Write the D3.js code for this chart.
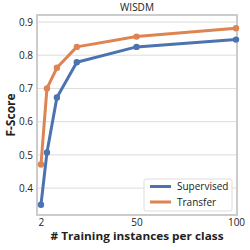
<!DOCTYPE html>
<html>
<head>
<meta charset="utf-8">
<script src="https://cdn.jsdelivr.net/npm/d3@7"></script>
<style>
  body { margin: 0; background: #fff; }
  text { font-family: "Open Sans", "Noto Sans", sans-serif; fill: #222; }
</style>
</head>
<body>
<div id="chart"></div>
<script>
(function(d3) {
  'use strict';

  var instances = [2, 5, 10, 20, 50, 100];
  var supervised = [0.35, 0.507, 0.673, 0.779, 0.825, 0.847];
  var transfer = [0.471, 0.700, 0.762, 0.825, 0.856, 0.881];
  var seriesNames = ['Supervised', 'Transfer'];
  var xTicks = [2, 50, 100];
  var yTicks = [0.4, 0.5, 0.6, 0.7, 0.8, 0.9];

  var width = 250, height = 250;
  var left = 37, right = 237, top = 15, bottom = 215;

  var color = d3.scaleOrdinal(seriesNames, ['#4c72b0', '#dd8452']);

  var x = d3.scaleLinear().domain([0, 100.5]).range([left, right]);
  var y = d3.scaleLinear().domain([0.319, 0.921]).range([bottom, top]);

  var svg = d3.select('#chart').append('svg')
    .attr('width', width)
    .attr('height', height);

  // grid
  svg.append('g')
    .selectAll('line')
    .data(yTicks)
    .enter().append('line')
    .attr('x1', left).attr('x2', right)
    .attr('y1', function(d) { return y(d); })
    .attr('y2', function(d) { return y(d); })
    .attr('stroke', '#dcdcdc')
    .attr('stroke-width', 1);

  // frame
  svg.append('rect')
    .attr('x', left).attr('y', top)
    .attr('width', right - left).attr('height', bottom - top)
    .attr('fill', 'none')
    .attr('stroke', '#cccccc')
    .attr('stroke-width', 2);

  var yAxis = d3.axisLeft(y).tickValues(yTicks).tickSize(0).tickPadding(4)
    .tickFormat(d3.format('.1f'));
  svg.append('g')
    .attr('transform', 'translate(' + left + ',0)')
    .call(yAxis)
    .call(function(g) { g.select('.domain').remove(); })
    .selectAll('text')
    .style('font-size', '10px')
    .attr('fill', '#222');

  var xAxis = d3.axisBottom(x).tickValues(xTicks).tickSize(0).tickPadding(4);
  svg.append('g')
    .attr('transform', 'translate(0,' + bottom + ')')
    .call(xAxis)
    .call(function(g) { g.select('.domain').remove(); })
    .selectAll('text')
    .style('font-size', '10px')
    .attr('fill', '#222');

  var data = [
    { name: 'Supervised', values: supervised },
    { name: 'Transfer', values: transfer }
  ];

  var line = d3.line()
    .x(function(d, i) { return x(instances[i]); })
    .y(function(d) { return y(d); });

  var series = svg.selectAll('.series')
    .data(data)
    .enter().append('g')
    .attr('class', 'series');

  series.append('path')
    .attr('d', function(d) { return line(d.values); })
    .attr('fill', 'none')
    .attr('stroke', function(d) { return color(d.name); })
    .attr('stroke-width', 3)
    .attr('stroke-linejoin', 'round');

  series.selectAll('circle')
    .data(function(d) {
      return d.values.map(function(v, i) { return { name: d.name, v: v, i: i }; });
    })
    .enter().append('circle')
    .attr('cx', function(d) { return x(instances[d.i]); })
    .attr('cy', function(d) { return y(d.v); })
    .attr('r', 3.2)
    .attr('fill', function(d) { return color(d.name); });

  // title + labels
  svg.append('text')
    .attr('x', (left + right) / 2).attr('y', 11)
    .attr('text-anchor', 'middle')
    .style('font-size', '10px')
    .text('WISDM');

  svg.append('text')
    .attr('x', (left + right) / 2).attr('y', 240)
    .attr('text-anchor', 'middle')
    .style('font-size', '11px')
    .style('font-weight', 'bold')
    .attr('textLength', 173)
    .attr('lengthAdjust', 'spacingAndGlyphs')
    .text('# Training instances per class');

  svg.append('text')
    .attr('transform', 'translate(15,' + ((top + bottom) / 2) + ') rotate(-90)')
    .attr('text-anchor', 'middle')
    .style('font-size', '12px')
    .style('font-weight', 'bold')
    .text('F-Score');

  // legend
  var legend = svg.append('g').attr('transform', 'translate(144,179)');
  legend.append('rect')
    .attr('width', 88).attr('height', 32)
    .attr('rx', 2)
    .attr('fill', '#fff')
    .attr('fill-opacity', 0.85)
    .attr('stroke', '#dddddd');

  var item = legend.selectAll('.legend')
    .data(seriesNames)
    .enter().append('g')
    .attr('class', 'legend')
    .attr('transform', function(d, i) { return 'translate(0,' + (7.5 + i * 15.5) + ')'; });

  item.append('line')
    .attr('x1', 6).attr('x2', 27)
    .attr('stroke', color)
    .attr('stroke-width', 3);

  item.append('text')
    .attr('x', 33).attr('y', 3.5)
    .style('font-size', '10px')
    .text(function(d) { return d; });

})(window.d3);
</script>
</body>
</html>
